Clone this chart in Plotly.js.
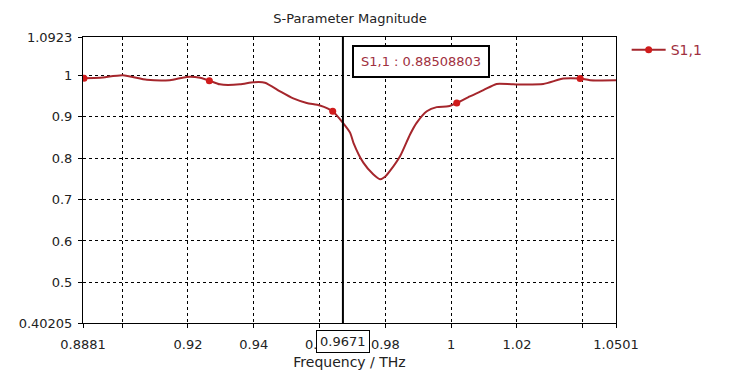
<!DOCTYPE html>
<html>
<head>
<meta charset="utf-8">
<script src="https://cdn.plot.ly/plotly-3.0.1.min.js"></script>
<style>html,body{margin:0;padding:0;background:#fff;}#chart{width:737px;height:375px;}</style>
</head>
<body>
<div id="chart"></div>
<script>
// Frequency (THz)
const freq = [0.8883, 0.8933, 0.9002, 0.9075, 0.9145, 0.9196, 0.9237, 0.9265, 0.9297, 0.9358,
  0.9399, 0.9434, 0.9480, 0.9520, 0.9561, 0.9601, 0.9640, 0.9671, 0.9693, 0.9703,
  0.9733, 0.9763, 0.9784, 0.9799, 0.9814, 0.9845, 0.9875, 0.9895, 0.9926, 0.9956,
  0.9991, 1.0017, 1.0057, 1.0098, 1.0138, 1.0189, 1.0280, 1.0341, 1.0392, 1.0422, 1.0501];
// |S1,1|
const s11 = [0.993, 0.994, 1.000, 0.989, 0.988, 0.996, 0.994, 0.987, 0.978, 0.978,
  0.983, 0.982, 0.961, 0.944, 0.933, 0.927, 0.913, 0.885, 0.861, 0.837,
  0.789, 0.761, 0.749, 0.755, 0.769, 0.805, 0.857, 0.885, 0.913, 0.923,
  0.925, 0.933, 0.949, 0.964, 0.979, 0.978, 0.979, 0.992, 0.992, 0.988, 0.988];
// marker symbols along curve
const markFreq = [0.8884, 0.9265, 0.9640, 1.0017, 1.0392];
const markVal  = [0.993, 0.987, 0.913, 0.933, 0.992];
// cursor marker
const cursorFreq = 0.9671;
const cursorVal = 0.88508803;
const cursorLabel = "0.9671";
// axes
const xRange = [0.8881, 1.0501];
const yRange = [0.40205, 1.0923];
const xTickVals = [0.8881, 0.90, 0.92, 0.94, 0.96, 0.98, 1.0, 1.02, 1.04, 1.0501];
const xTickText = ["0.8881", "", "0.92", "0.94", "0.96", "0.98", "1", "1.02", "", "1.0501"];
const yTickVals = [0.40205, 0.5, 0.6, 0.7, 0.8, 0.9, 1.0, 1.0923];
const yTickText = ["0.40205", "0.5", "0.6", "0.7", "0.8", "0.9", "1", "1.0923"];
const seriesName = "S1,1";

const lineColor = '#a5262c';
const markColor = '#d01c1c';
const font = "DejaVu Sans, Verdana, sans-serif";

const traces = [
  {x: freq, y: s11, mode: 'lines', type: 'scatter', line: {color: lineColor, width: 2, shape: 'spline', smoothing: 0.6},
   showlegend: false, hoverinfo: 'skip'},
  {x: markFreq, y: markVal, mode: 'markers', type: 'scatter', marker: {color: markColor, size: 7},
   showlegend: false, hoverinfo: 'skip'},
  {x: [null], y: [null], mode: 'lines+markers', type: 'scatter', name: seriesName,
   line: {color: lineColor, width: 2}, marker: {color: markColor, size: 7}}
];

const axisCommon = {
  showline: true, linecolor: '#000', linewidth: 1, mirror: true,
  showgrid: true, gridcolor: '#000', gridwidth: 1, griddash: '3px,3px',
  zeroline: false, ticks: 'outside', ticklen: 4, tickcolor: '#000', tickwidth: 1,
  tickfont: {family: font, size: 13, color: '#222'}, tickmode: 'array'
};

const layout = {
  width: 737, height: 375,
  margin: {l: 83, r: 121, t: 37, b: 52},
  paper_bgcolor: '#fff', plot_bgcolor: '#fff',
  title: {text: 'S-Parameter Magnitude', font: {family: font, size: 13, color: '#222'},
          x: 0.475, xanchor: 'center', y: 0.952, yanchor: 'middle'},
  xaxis: Object.assign({}, axisCommon, {range: xRange, tickvals: xTickVals, ticktext: xTickText,
    ticklabelstandoff: 5,
    title: {text: 'Frequency / THz', font: {family: font, size: 14, color: '#222'}, standoff: 6}}),
  yaxis: Object.assign({}, axisCommon, {range: yRange, tickvals: yTickVals, ticktext: yTickText,
    ticklabelstandoff: 3}),
  showlegend: true,
  legend: {x: 1.02, y: 1.01, xanchor: 'left', yanchor: 'top', bgcolor: 'rgba(0,0,0,0)',
           font: {family: font, size: 14, color: '#a03040'}, itemwidth: 34},
  shapes: [
    {type: 'line', xref: 'x', yref: 'paper', x0: cursorFreq, x1: cursorFreq, y0: 0, y1: 1,
     line: {color: '#000', width: 2}}
  ],
  annotations: [
    {xref: 'x', yref: 'paper', x: cursorFreq, y: 0, yshift: -18, yanchor: 'middle', xanchor: 'center',
     text: cursorLabel, showarrow: false, bgcolor: '#fff', bordercolor: '#000', borderwidth: 1, borderpad: 3,
     font: {family: font, size: 13, color: '#222'}},
    {xref: 'x', yref: 'paper', x: cursorFreq, xshift: 9, y: 0.913, xanchor: 'left', yanchor: 'middle',
     text: seriesName + ' : ' + cursorVal.toFixed(8), showarrow: false, bgcolor: '#fff',
     bordercolor: '#000', borderwidth: 2, borderpad: 7,
     font: {family: font, size: 13, color: '#a03040'}}
  ]
};

Plotly.newPlot('chart', traces, layout, {displayModeBar: false, staticPlot: true});
</script>
</body>
</html>
